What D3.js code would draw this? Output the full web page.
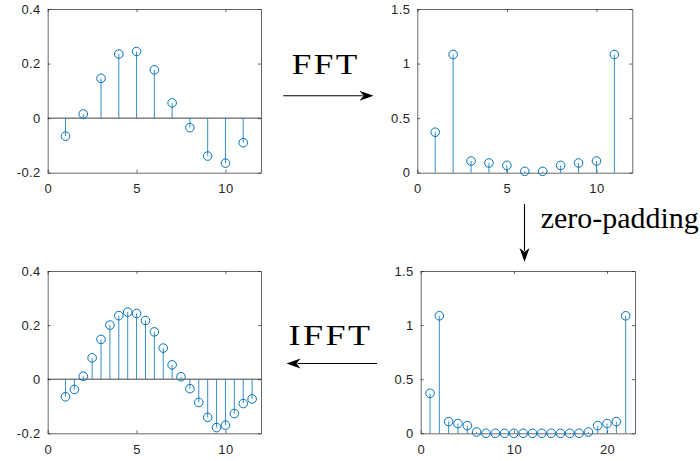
<!DOCTYPE html>
<html>
<head>
<meta charset="utf-8">
<script src="https://cdn.jsdelivr.net/npm/d3@7"></script>
<style>
  body { margin: 0; background: #fff; }
  .tick text { font-family: "Liberation Sans", Arial, sans-serif; font-size: 13px; letter-spacing: 0.4px; fill: #262626; }
  .domain, .tick line { stroke: #262626; stroke-width: 0.7; }
  .label { font-family: "Liberation Serif", "Times New Roman", serif; fill: #000; }
</style>
</head>
<body>
<svg id="chart" width="700" height="461"></svg>
<script>
// signal (top-left), 11 samples
const sigX = [1, 2, 3, 4, 5, 6, 7, 8, 9, 10, 11];
const sigY = [-0.066, 0.015, 0.146, 0.235, 0.244, 0.177, 0.056, -0.035, -0.139, -0.165, -0.090];

// |FFT| (top-right)
const fftX = [1, 2, 3, 4, 5, 6, 7, 8, 9, 10, 11];
const fftY = [0.371, 1.083, 0.107, 0.089, 0.067, 0.012, 0.012, 0.067, 0.089, 0.107, 1.083];

// zero-padded spectrum (bottom-right), 22 bins
const padX = d3.range(1, 23);
const padY = [0.370, 1.086, 0.108, 0.090, 0.071, 0.012,
              0, 0, 0, 0, 0, 0, 0, 0, 0, 0, 0,
              0.012, 0.071, 0.090, 0.108, 1.086];

// interpolated signal (bottom-left), 22 samples
const ifftX = [1, 1.5, 2, 2.5, 3, 3.5, 4, 4.5, 5, 5.5, 6, 6.5, 7, 7.5, 8, 8.5, 9, 9.5, 10, 10.5, 11, 11.5];
const ifftY = [-0.065, -0.038, 0.011, 0.079, 0.147, 0.200, 0.235, 0.248, 0.243, 0.217, 0.175, 0.115,
               0.053, 0.009, -0.035, -0.086, -0.141, -0.179, -0.170, -0.127, -0.090, -0.073];

const timeTicksX = [0, 5, 10];
const timeTicksY = [-0.2, 0, 0.2, 0.4];
const specTicksY = [0, 0.5, 1, 1.5];
const padTicksX = [0, 10, 20];

const blue = '#0072BD';
const svg = d3.select('#chart');

function stemPanel(box, xs, ys, xDomain, yDomain, xTicks, yTicks, baseline) {
  const x = d3.scaleLinear().domain(xDomain).range([box.x0, box.x1]);
  const y = d3.scaleLinear().domain(yDomain).range([box.y1, box.y0]);
  const g = svg.append('g');
  const fmt = d => String(d);

  g.append('g').attr('transform', `translate(0,${box.y1})`)
    .call(d3.axisBottom(x).tickValues(xTicks).tickSize(-3).tickSizeOuter(0).tickPadding(11).tickFormat(fmt));
  g.append('g').attr('transform', `translate(${box.x0},0)`)
    .call(d3.axisLeft(y).tickValues(yTicks).tickSize(-3).tickSizeOuter(0).tickPadding(7).tickFormat(fmt));
  g.append('g').attr('transform', `translate(0,${box.y0})`)
    .call(d3.axisTop(x).tickValues(xTicks).tickSize(-3).tickSizeOuter(0).tickFormat(''));
  g.append('g').attr('transform', `translate(${box.x1},0)`)
    .call(d3.axisRight(y).tickValues(yTicks).tickSize(-3).tickSizeOuter(0).tickFormat(''));

  if (baseline) {
    g.append('line')
      .attr('x1', box.x0).attr('x2', box.x1)
      .attr('y1', y(0)).attr('y2', y(0))
      .attr('stroke', '#111').attr('stroke-width', 0.8);
  }

  const pts = xs.map((v, i) => [v, ys[i]]);
  g.selectAll('line.stem').data(pts).enter()
    .append('line').attr('class', 'stem')
    .attr('x1', d => x(d[0])).attr('x2', d => x(d[0]))
    .attr('y1', y(0)).attr('y2', d => y(d[1]))
    .attr('stroke', blue).attr('stroke-width', 0.8);
  g.selectAll('circle.mark').data(pts).enter()
    .append('circle').attr('class', 'mark')
    .attr('cx', d => x(d[0])).attr('cy', d => y(d[1]))
    .attr('r', 4.3)
    .attr('fill', 'none').attr('stroke', blue).attr('stroke-width', 1);
}

stemPanel({x0: 47.7, x1: 261, y0: 9, y1: 172.7}, sigX, sigY, [0, 12], [-0.2, 0.4], timeTicksX, timeTicksY, true);
stemPanel({x0: 417.3, x1: 632.3, y0: 9, y1: 172.7}, fftX, fftY, [0, 12], [0, 1.5], timeTicksX, specTicksY, false);
stemPanel({x0: 47.7, x1: 261, y0: 271, y1: 433.3}, ifftX, ifftY, [0, 12], [-0.2, 0.4], timeTicksX, timeTicksY, true);
stemPanel({x0: 420.7, x1: 635, y0: 271, y1: 433.3}, padX, padY, [0, 23], [0, 1.5], padTicksX, specTicksY, false);

// arrows between panels
function arrow(x1, y1, x2, y2) {
  const ang = Math.atan2(y2 - y1, x2 - x1);
  const len = 14, half = 5;
  const bx = x2 - len * Math.cos(ang), by = y2 - len * Math.sin(ang);
  svg.append('line')
    .attr('x1', x1).attr('y1', y1).attr('x2', bx + 3 * Math.cos(ang)).attr('y2', by + 3 * Math.sin(ang))
    .attr('stroke', '#000').attr('stroke-width', 1.1);
  const nx = -Math.sin(ang), ny = Math.cos(ang);
  svg.append('path')
    .attr('d', `M${x2},${y2}L${bx + nx * half},${by + ny * half}L${bx + 4 * Math.cos(ang)},${by + 4 * Math.sin(ang)}L${bx - nx * half},${by - ny * half}Z`)
    .attr('fill', '#000');
}

arrow(283.3, 95.7, 373.5, 95.7);
arrow(377, 363.5, 286.5, 363.5);
arrow(524.5, 204, 524.5, 262);

// serif labels: a little letter spacing plus a mild horizontal stretch to reach the target width
function label(txt, x, y, w, size, spacing) {
  const t = svg.append('text').attr('class', 'label')
    .attr('x', 0).attr('y', 0)
    .style('font-size', size + 'px')
    .style('letter-spacing', spacing + 'px')
    .text(txt);
  const natural = t.node().getComputedTextLength() - spacing;
  const sx = w / natural;
  t.attr('transform', `translate(${x},${y}) scale(${sx},1)`);
}
label('FFT', 291.7, 73.5, 65.7, 29, 2);
label('IFFT', 288.5, 344.5, 81.5, 29, 2);
label('zero-padding', 540.7, 228.3, 158, 29, 0);
</script>
</body>
</html>
